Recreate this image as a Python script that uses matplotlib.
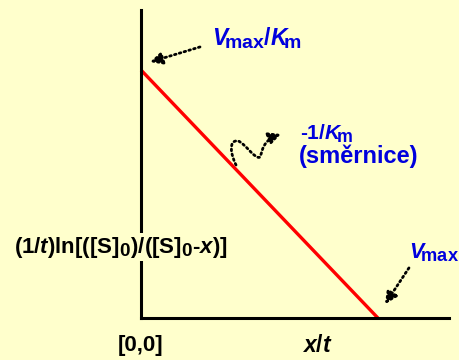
import numpy as np
import matplotlib.pyplot as plt
import matplotlib._mathtext as mathtext
from matplotlib.patches import FancyArrowPatch
from matplotlib.path import Path

# bold Arial-like look for all text, including math
plt.rcParams['font.family'] = 'Liberation Sans'
plt.rcParams['font.weight'] = 'bold'
plt.rcParams['mathtext.fontset'] = 'custom'
plt.rcParams['mathtext.rm'] = 'Liberation Sans:bold'
plt.rcParams['mathtext.bf'] = 'Liberation Sans:bold'
plt.rcParams['mathtext.it'] = 'Liberation Sans:bold:italic'
mathtext.SHRINK_FACTOR = 0.85  # bigger subscripts

# linearised plot: y = Vmax/Km - x/(t*Km)
vmax = 1.0
km = 1.0
line_x = [0.0, vmax]
line_y = [vmax / km, 0.0]

bg = '#FFFFCC'
blue = '#0000DD'

fig = plt.figure(figsize=(4.6, 3.6), dpi=100, facecolor=bg)
ax = fig.add_axes([141/460, 42/360, 308/460, 308/360])
ax.set_facecolor(bg)
ax.set_xlim(0, 1.30)
ax.set_ylim(0, 1.242)
for s in ['top', 'right']:
    ax.spines[s].set_visible(False)
for s in ['left', 'bottom']:
    ax.spines[s].set_linewidth(2.2)
ax.set_xticks([])
ax.set_yticks([])

ax.plot(line_x, line_y, color='#FF0000', lw=2.4, solid_capstyle='butt', clip_on=False)

# labels
ax.text(0.30, 1.10, r'$V_{\!\rm max}/K_{\!\rm m}$', color=blue, fontsize=16.5,
        ha='left', va='baseline')
ax.text(0.671, 0.718, r'$\text{-}\mathit{1/K}_{\!\rm m}$', color=blue, fontsize=15,
        ha='left', va='baseline')
ax.text(0.668, 0.625, '(směrnice)', color=blue, fontsize=17, ha='left', va='baseline')
ax.text(1.133, 0.242, r'$V_{\!\rm max}$', color=blue, fontsize=15.5, ha='left', va='baseline')

ax.text(-0.084, 0.286, r'$(\mathit{1/t})\rm{ln}[([S]_0)/([S]_0\text{-}\mathit{x})]$',
        fontsize=16, color='black', ha='center', va='center', clip_on=False,
        bbox=dict(facecolor=bg, edgecolor='none', pad=1))
ax.text(-0.002, -0.11, '[0,0]', fontsize=16, ha='center', va='center')
ax.text(0.745, -0.11, r'$x/t$', fontsize=16.5, ha='center', va='center')

# dotted pointer arrows
dots = (0, (0.6, 1.2))
arrow_kw = dict(arrowstyle='-|>', color='black', lw=2.0, linestyle=dots, mutation_scale=18)
ax.annotate('', xy=(0.038, 1.032), xytext=(0.249, 1.093),
            arrowprops=dict(arrow_kw, shrinkA=0, shrinkB=0), annotation_clip=False)
ax.annotate('', xy=(1.030, 0.056), xytext=(1.131, 0.202),
            arrowprops=dict(arrow_kw, shrinkA=0, shrinkB=0), annotation_clip=False)

# curly pointer from the line to the slope label
curl_pts = [(0.401, 0.617),
            (0.380, 0.657), (0.367, 0.718), (0.409, 0.714),
            (0.439, 0.706), (0.481, 0.637), (0.502, 0.649),
            (0.515, 0.677), (0.511, 0.714), (0.591, 0.742)]
codes = [Path.MOVETO] + [Path.CURVE4] * 9
curl = FancyArrowPatch(path=Path(curl_pts, codes), transform=ax.transData, **arrow_kw)
curl.set_clip_on(False)
ax.add_patch(curl)

fig.savefig('out.png', dpi=100, facecolor=bg)
